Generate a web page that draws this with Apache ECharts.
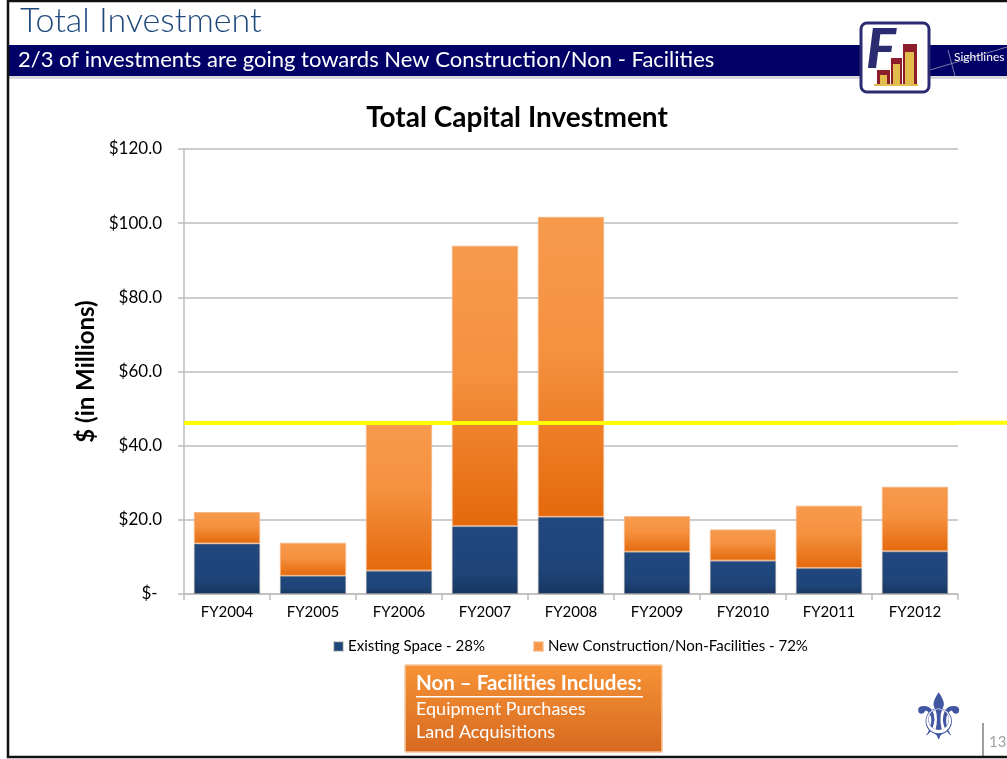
<!DOCTYPE html>
<html>
<head>
<meta charset="utf-8">
<script src="https://cdn.jsdelivr.net/npm/echarts@6/dist/echarts.min.js"></script>
<style>
html, body { margin: 0; padding: 0; background: #fff; }
#container { width: 1007px; height: 759px; }
</style>
</head>
<body>
<div id="container"></div>
<script>
// data
var years = ['FY2004', 'FY2005', 'FY2006', 'FY2007', 'FY2008', 'FY2009', 'FY2010', 'FY2011', 'FY2012'];
var existingSpace = [13.6, 4.9, 6.3, 18.3, 20.8, 11.4, 9.0, 7.0, 11.5];
var newConstruction = [8.5, 8.9, 39.5, 75.6, 80.9, 9.6, 8.4, 16.8, 17.4];
var avgLine = 46.2;
var yTicks = [0, 20, 40, 60, 80, 100, 120];

var font = 'Lato, "Open Sans", sans-serif';

var dom = document.getElementById('container');
var myChart = echarts.init(dom);

var blueFill = new echarts.graphic.LinearGradient(0, 0, 0, 1, [
    {offset: 0, color: '#21497f'},
    {offset: 0.7, color: '#1e4478'},
    {offset: 1, color: '#173660'}
]);
var orangeFill = new echarts.graphic.LinearGradient(0, 0, 0, 1, [
    {offset: 0, color: '#f79a4d'},
    {offset: 0.45, color: '#f5913f'},
    {offset: 1, color: '#e4690c'}
]);

var option = {
    animation: false,
    backgroundColor: '#fff',
    title: {
        text: 'Total Capital Investment',
        left: 512,
        textAlign: 'center',
        top: 99,
        textStyle: {fontFamily: font, fontSize: 28, fontWeight: 'bold', color: '#000'}
    },
    grid: {left: 184, right: 49, top: 149, bottom: 165},
    legend: {
        left: 328,
        top: 634,
        itemWidth: 9,
        itemHeight: 9,
        itemGap: 48,
        icon: 'rect',
        textStyle: {fontFamily: font, fontSize: 15, color: '#000'},
        data: [
            {name: 'Existing Space - 28%', itemStyle: {color: '#1f497d'}},
            {name: 'New Construction/Non-Facilities - 72%', itemStyle: {color: '#f79646'}}
        ]
    },
    xAxis: {
        type: 'category',
        data: years,
        axisLine: {lineStyle: {color: '#bdbdbd', width: 1.5}},
        axisTick: {show: true, length: 6, lineStyle: {color: '#bdbdbd', width: 1.5}},
        axisLabel: {fontFamily: font, fontSize: 15, color: '#000', margin: 11}
    },
    yAxis: {
        type: 'value',
        min: 0,
        max: 120,
        interval: 20,
        name: '$ (in Millions)',
        nameLocation: 'middle',
        nameGap: 84,
        nameTextStyle: {fontFamily: font, fontSize: 24, fontWeight: 'bold', color: '#000'},
        axisLine: {show: true, lineStyle: {color: '#bdbdbd', width: 1.5}},
        axisTick: {show: true, length: 6, lineStyle: {color: '#bdbdbd', width: 1.5}},
        splitLine: {lineStyle: {color: '#bdbdbd', width: 1.5}},
        axisLabel: {
            fontFamily: font, fontSize: 17, color: '#000', margin: 22,
            customValues: yTicks,
            formatter: function (v) { return v === 0 ? '$- ' : '$' + v.toFixed(1); }
        }
    },
    series: [
        {
            name: 'Existing Space - 28%',
            type: 'bar',
            stack: 'total',
            barCategoryGap: '23%',
            data: existingSpace,
            itemStyle: {color: blueFill, borderColor: 'rgba(140,140,140,0.35)', borderWidth: 1}
        },
        {
            name: 'New Construction/Non-Facilities - 72%',
            type: 'bar',
            stack: 'total',
            data: newConstruction,
            itemStyle: {color: orangeFill, borderColor: 'rgba(245,180,130,0.6)', borderWidth: 1},
            markLine: {
                silent: true,
                symbol: 'none',
                label: {show: false},
                lineStyle: {color: '#ffff00', width: 4, type: 'solid'},
                data: [{yAxis: avgLine}]
            }
        }
    ],
    graphic: [
        // slide frame
        {type: 'rect', shape: {x: 8, y: 1, width: 1010, height: 756}, style: {fill: 'none', stroke: '#111', lineWidth: 2.5}, z: 100},
        {type: 'text', left: 20, top: 4, style: {text: 'Total Investment', fontFamily: font, fontSize: 34, fontWeight: 300, fill: '#1f497d'}},
        {type: 'rect', shape: {x: 9, y: 45, width: 1000, height: 31}, style: {fill: '#000066'}},
        {type: 'rect', shape: {x: 9, y: 76, width: 1000, height: 3}, style: {fill: '#d9d9d9'}},
        {type: 'text', left: 18, top: 49, style: {text: '2/3 of investments are going towards New Construction/Non - Facilities', fontFamily: font, fontSize: 22, fill: '#fff'}},
        {type: 'line', shape: {x1: 930, y1: 70, x2: 1007, y2: 47}, style: {stroke: '#7a7aa8', lineWidth: 1}},
        {type: 'line', shape: {x1: 948, y1: 50, x2: 955, y2: 76}, style: {stroke: '#7a7aa8', lineWidth: 1}},
        {type: 'text', left: 954, top: 51, style: {text: 'Sightlines', fontFamily: font, fontSize: 12, fill: '#fff'}},
        // logo
        {type: 'rect', shape: {x: 861, y: 23, width: 68, height: 69, r: 6}, style: {fill: '#fff', stroke: '#2b2b72', lineWidth: 3}},
        {type: 'text', left: 866, top: 22, style: {text: 'F', fontFamily: font, fontSize: 56, fontWeight: 900, fontStyle: 'italic', fill: '#2b2b72'}},
        {type: 'rect', shape: {x: 877, y: 70, width: 13, height: 14}, style: {fill: '#8c1d2a'}},
        {type: 'rect', shape: {x: 880, y: 75, width: 7, height: 9}, style: {fill: '#e3bc4e'}},
        {type: 'rect', shape: {x: 891, y: 58, width: 11, height: 26}, style: {fill: '#8c1d2a'}},
        {type: 'rect', shape: {x: 893, y: 64, width: 7, height: 20}, style: {fill: '#e3bc4e'}},
        {type: 'rect', shape: {x: 903, y: 44, width: 14, height: 40}, style: {fill: '#8c1d2a'}},
        {type: 'rect', shape: {x: 905, y: 52, width: 9, height: 32}, style: {fill: '#e3bc4e'}},
        {type: 'rect', shape: {x: 874, y: 84, width: 44, height: 2}, style: {fill: '#e3bc4e'}},
        // note box
        {
            type: 'rect',
            shape: {x: 405, y: 665, width: 257, height: 87},
            style: {
                fill: new echarts.graphic.LinearGradient(0, 0, 0, 1, [
                    {offset: 0, color: '#f79337'},
                    {offset: 1, color: '#d6691f'}
                ]),
                stroke: '#f5c89c', lineWidth: 1
            }
        },
        {type: 'text', left: 416, top: 673, style: {text: 'Non \u2013 Facilities Includes:', fontFamily: font, fontSize: 20.5, fontWeight: 'bold', fill: '#fff'}},
        {type: 'rect', shape: {x: 416, y: 696, width: 227, height: 1.5}, style: {fill: '#fff'}},
        {type: 'text', left: 416, top: 700, style: {text: 'Equipment Purchases', fontFamily: font, fontSize: 18, fill: '#fff'}},
        {type: 'text', left: 416, top: 723, style: {text: 'Land Acquisitions', fontFamily: font, fontSize: 18, fill: '#fff'}},
        // footer
        {type: 'text', left: 910, top: 690, style: {text: '\u269c', fontFamily: 'DejaVu Sans', fontSize: 64, fill: '#4156a0'}},
        {type: 'line', shape: {x1: 983, y1: 723, x2: 983, y2: 756}, style: {stroke: '#7f7f7f', lineWidth: 1.5}},
        {type: 'text', left: 989, top: 735, style: {text: '13', fontFamily: font, fontSize: 15, fill: '#a0a0a0'}}
    ]
};

myChart.setOption(option, true);

// yellow line runs on past the plot to the slide edge
var yPix = myChart.convertToPixel({yAxisIndex: 0}, avgLine);
var xEnd = myChart.convertToPixel({xAxisIndex: 0}, years[years.length - 1]) + 40;
myChart.setOption({
    graphic: option.graphic.concat([
        {type: 'line', shape: {x1: xEnd, y1: yPix, x2: 1007, y2: yPix}, style: {stroke: '#ffff00', lineWidth: 4}}
    ])
});
</script>
</body>
</html>
